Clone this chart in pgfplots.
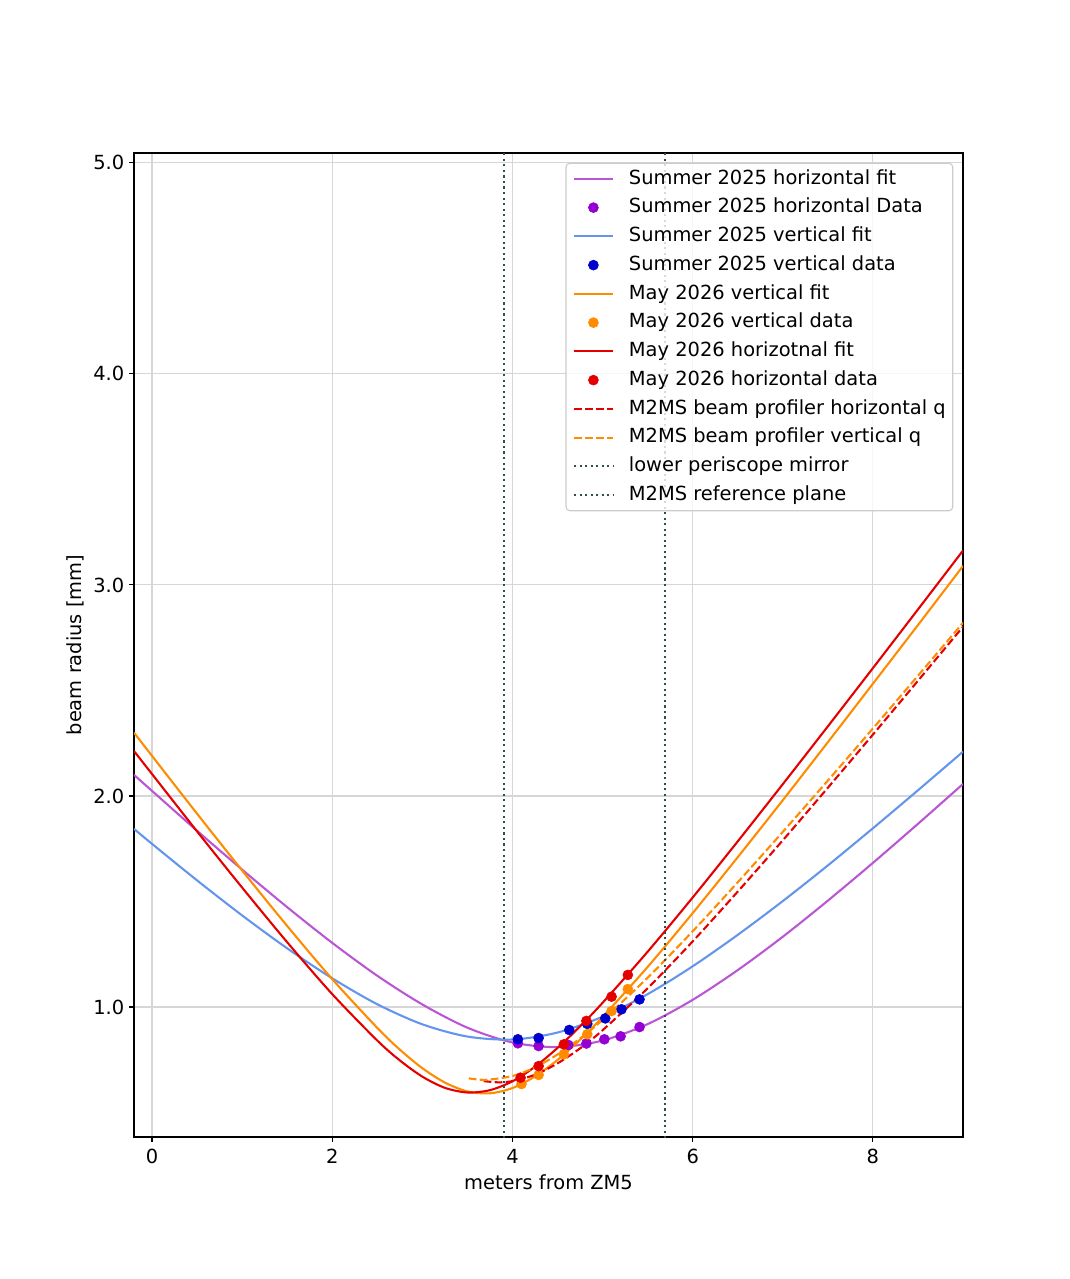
\documentclass[border=0pt]{standalone}
\usepackage{fontspec}
\setmainfont{DejaVu Sans}
\usepackage{pgfplots}
\pgfplotsset{compat=1.18}
\definecolor{morchid}{HTML}{BA55D3}
\definecolor{dviolet}{HTML}{9400D3}
\definecolor{cfblue}{HTML}{6495ED}
\definecolor{mblue}{HTML}{0000CD}
\definecolor{dorange}{HTML}{FF8C00}
\definecolor{myred}{HTML}{E50000}
\definecolor{dsgray}{HTML}{2F4F4F}
\newcommand{\fs}{\fontsize{14}{16.8}\selectfont}
\begin{document}
\begin{tikzpicture}
\path[use as bounding box] (-96.48pt,-102.24pt) rectangle (673.92pt,818.64pt);
\begin{axis}[
  at={(0pt,0pt)}, anchor=south west,
  scale only axis, width=596.9pt, height=708.5pt,
  xmin=-0.2, xmax=9, ymin=0.384, ymax=5.047,
  xtick={0,2,4,6,8}, ytick={1,2,3,4,5},
  yticklabel style={/pgf/number format/fixed, /pgf/number format/fixed zerofill, /pgf/number format/precision=1},
  xticklabel style={yshift=-2pt},
  /pgf/number format/assume math mode=true,
  tick label style={font=\fs},
  label style={font=\fs},
  xlabel={meters from ZM5}, ylabel={beam radius [mm]},
  xlabel style={yshift=-1pt},
  grid=major, major grid style={line width=0.8pt, color=black!16},
  tick align=outside, major tick length=3.5pt, tick style={line width=0.8pt, black},
  tick pos=left,
  axis line style={line width=0.8pt},
  legend cell align=left,
  legend image code/.code={\path[draw=none,fill=none] (0pt,-5pt) rectangle (28pt,5pt); \draw[mark repeat=2,mark phase=2,fill opacity=1,#1,line width=1.5pt] plot coordinates {(0pt,0pt) (14pt,0pt) (28pt,0pt)};},
  legend style={at={(1,1)}, anchor=north east, xshift=-7pt, yshift=-7pt,
    draw=black!20, line width=0.8pt, rounded corners=2.8pt, fill=white, fill opacity=0.8, draw opacity=1, text opacity=1,
    font=\fs, inner xsep=5pt, inner ysep=4.5pt, row sep=7.2pt, column sep=10.8pt,
    nodes={inner sep=0pt, text height=10.5pt, text depth=3pt}},
  mymarks/.style={only marks, mark=*, mark size=3.6pt, mark options={line width=0.4pt}},
]
% Summer 2025 horizontal fit
\addplot[morchid, smooth, line width=1.5pt] coordinates {(-0.2,2.100) (0,2.024) (0.5,1.835) (1,1.651) (1.5,1.473) (2,1.304) (2.5,1.148) (3,1.012) (3.5,0.902) (4,0.832) (4.5,0.810) (5,0.841) (5.5,0.919) (6,1.034) (6.5,1.175) (7,1.333) (7.5,1.504) (8,1.683) (8.5,1.868) (9,2.057)};
\addlegendentry{Summer 2025 horizontal fit}
\addplot[mymarks, dviolet] coordinates {(4.06,0.828) (4.29,0.815) (4.62,0.820) (4.82,0.827) (5.02,0.847) (5.20,0.861) (5.41,0.905)};
\addlegendentry{Summer 2025 horizontal Data}
% Summer 2025 vertical fit
\addplot[cfblue, smooth, line width=1.5pt] coordinates {(-0.2,1.844) (0,1.773) (0.5,1.600) (1,1.434) (1.5,1.278) (2,1.136) (2.5,1.013) (3,0.918) (3.5,0.860) (4,0.846) (4.5,0.879) (5,0.954) (5.5,1.061) (6,1.193) (6.5,1.342) (7,1.502) (7.5,1.671) (8,1.847) (8.5,2.027) (9,2.210)};
\addlegendentry{Summer 2025 vertical fit}
\addplot[mymarks, mblue] coordinates {(4.06,0.847) (4.29,0.853) (4.63,0.891) (4.83,0.920) (5.03,0.946) (5.21,0.989) (5.41,1.036)};
\addlegendentry{Summer 2025 vertical data}
% May 2026 vertical fit
\addplot[dorange, smooth, line width=1.5pt] coordinates {(-0.2,2.300) (0,2.190) (0.5,1.916) (1,1.647) (1.5,1.384) (2,1.132) (2.5,0.901) (2.75,0.798) (3,0.710) (3.25,0.642) (3.5,0.600) (3.75,0.591) (4,0.616) (4.25,0.671) (4.5,0.749) (4.75,0.845) (5,0.953) (5.5,1.190) (6,1.445) (6.5,1.710) (7,1.980) (7.5,2.255) (8,2.532) (8.5,2.810) (9,3.090)};
\addlegendentry{May 2026 vertical fit}
\addplot[mymarks, dorange] coordinates {(4.10,0.635) (4.29,0.678) (4.57,0.776) (4.83,0.871) (5.10,0.981) (5.28,1.085)};
\addlegendentry{May 2026 vertical data}
% May 2026 horizontal fit
\addplot[myred, smooth, line width=1.5pt] coordinates {(-0.2,2.213) (0,2.104) (0.5,1.832) (1,1.566) (1.5,1.307) (2,1.061) (2.5,0.841) (2.75,0.747) (3,0.670) (3.25,0.617) (3.5,0.595) (3.75,0.606) (4,0.648) (4.25,0.717) (4.5,0.806) (4.75,0.908) (5,1.020) (5.5,1.262) (6,1.519) (6.5,1.785) (7,2.056) (7.5,2.330) (8,2.606) (8.5,2.884) (9,3.163)};
\addlegendentry{May 2026 horizotnal fit}
\addplot[mymarks, myred] coordinates {(4.09,0.665) (4.29,0.720) (4.57,0.823) (4.82,0.934) (5.10,1.049) (5.28,1.152)};
\addlegendentry{May 2026 horizontal data}
% M2MS dashed
\addplot[myred, smooth, line width=1.5pt, dash pattern=on 5.55pt off 2.4pt] coordinates {(3.68,0.649) (3.84,0.643) (4,0.649) (4.25,0.679) (4.5,0.733) (4.75,0.804) (5,0.890) (5.5,1.089) (6,1.311) (6.5,1.547) (7,1.790) (7.5,2.039) (8,2.291) (8.5,2.546) (9,2.802)};
\addlegendentry{M2MS beam profiler horizontal q}
\addplot[dorange, smooth, line width=1.5pt, dash pattern=on 5.55pt off 2.4pt] coordinates {(3.515,0.662) (3.7,0.655) (4,0.673) (4.25,0.714) (4.5,0.775) (4.75,0.851) (5,0.939) (5.5,1.139) (6,1.359) (6.5,1.591) (7,1.830) (7.5,2.073) (8,2.320) (8.5,2.570) (9,2.821)};
\addlegendentry{M2MS beam profiler vertical q}
% vertical markers
\addplot[dsgray, line width=1.5pt, dash pattern=on 1.5pt off 2.475pt] coordinates {(3.91,0.3) (3.91,5.2)};
\addlegendentry{lower periscope mirror}
\addplot[dsgray, line width=1.5pt, dash pattern=on 1.5pt off 2.475pt] coordinates {(5.69,0.3) (5.69,5.2)};
\addlegendentry{M2MS reference plane}
\end{axis}
\end{tikzpicture}
\end{document}
